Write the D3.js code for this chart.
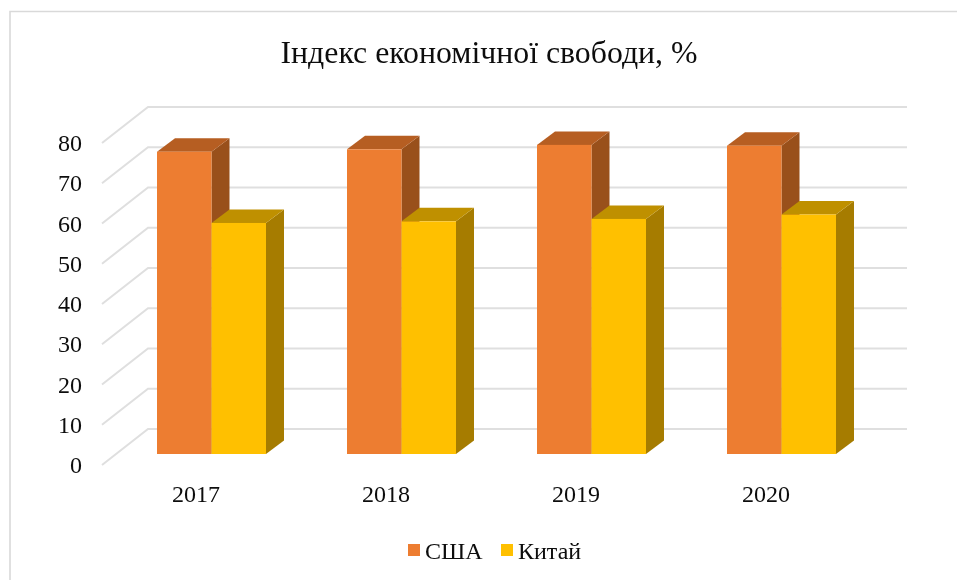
<!DOCTYPE html>
<html><head><meta charset="utf-8">
<script src="https://cdn.jsdelivr.net/npm/d3@7"></script>
<style>html,body{margin:0;background:#fff}svg{display:block;filter:blur(0.4px)}text{font-family:"Liberation Serif",serif;fill:#0d0d0d}</style>
</head><body><div id="c"></div>
<script>
const titleText = "Індекс економічної свободи, %";
const years = ["2017","2018","2019","2020"];
const seriesNames = ["США","Китай"];
const usa = [75.1,75.7,76.8,76.6];
const china = [57.4,57.8,58.4,59.5];
const yTicks = [0,10,20,30,40,50,60,70,80];
const colors = {"США":{front:"#ED7D31",top:"#B65E22",side:"#99501B"},"Китай":{front:"#FFC000",top:"#BF9000",side:"#A67C00"}};

const W=957,H=580;
const svg=d3.select("#c").append("svg").attr("width",W).attr("height",H);
// chart frame
svg.append("path").attr("d","M10 580V11.5H957").attr("fill","none").attr("stroke","#d9d9d9").attr("stroke-width",1.6);

const y=d3.scaleLinear().domain([0,80]).range([465,143]);
const floor={dx:46,dy:-36}, barOff={dx:14,dy:-11}, barD={dx:18,dy:-13.5};
const xLeft=102, xRight=907;
const x=d3.scaleBand().domain(years).range([xLeft+barOff.dx,xLeft+barOff.dx+190*4]);
const inner=d3.scaleBand().domain(seriesNames).range([-54,55]);

// gridlines: wall and floor side
const g=svg.append("g").attr("fill","none").attr("stroke","#dfdfdf").attr("stroke-width",2);
yTicks.forEach(t=>{
  const p=d3.path();
  p.moveTo(xLeft,y(t));
  p.lineTo(xLeft+floor.dx,y(t)+floor.dy);
  p.lineTo(xRight,y(t)+floor.dy);
  g.append("path").attr("d",p.toString());
});

// y tick labels
svg.append("g").selectAll("text").data(yTicks).join("text")
  .attr("x",82).attr("y",d=>y(d)+8).attr("text-anchor","end").attr("font-size",24).text(d=>d);

// bars
const vals={"США":usa,"Китай":china};
years.forEach((yr,i)=>{
  seriesNames.forEach(s=>{
    const v=vals[s][i], c=colors[s];
    const x0=x(yr)+x.bandwidth()/2+inner(s), x1=x0+inner.bandwidth();
    const yb=y(0)+barOff.dy, yt=y(v)+barOff.dy;
    const bar=svg.append("g");
    bar.append("polygon").attr("fill",c.side).attr("points",[[x1,yt],[x1+barD.dx,yt+barD.dy],[x1+barD.dx,yb+barD.dy],[x1,yb]].join(" "));
    bar.append("polygon").attr("fill",c.top).attr("points",[[x0,yt],[x0+barD.dx,yt+barD.dy],[x1+barD.dx,yt+barD.dy],[x1,yt]].join(" "));
    bar.append("rect").attr("fill",c.front).attr("x",x0).attr("y",yt).attr("width",x1-x0).attr("height",yb-yt);
  });
});

// category labels
svg.append("g").selectAll("text").data(years).join("text")
  .attr("x",d=>x(d)+x.bandwidth()/2-barOff.dx-1).attr("y",501.5).attr("text-anchor","middle").attr("font-size",24).text(d=>d);

// title
svg.append("text").attr("x",489).attr("y",62.5).attr("text-anchor","middle").attr("font-size",31.8).text(titleText);

// legend
const legendX=[408,501];
seriesNames.forEach((s,i)=>{
  svg.append("rect").attr("x",legendX[i]).attr("y",544).attr("width",12).attr("height",12).attr("fill",colors[s].front);
  svg.append("text").attr("x",legendX[i]+17).attr("y",558.5).attr("font-size",24).text(s);
});
</script></body></html>
